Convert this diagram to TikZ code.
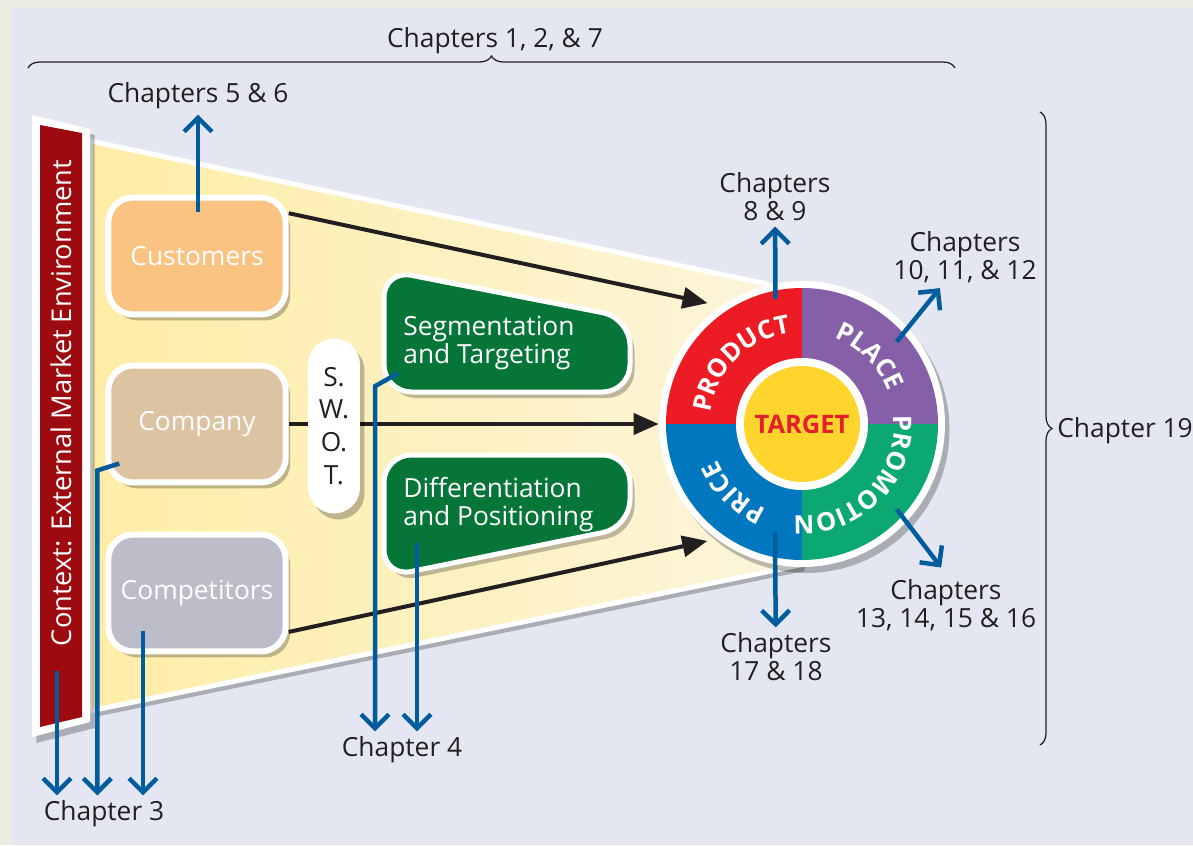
\documentclass[tikz,border=0pt]{standalone}
\usepackage{fontspec}
\setmainfont{Open Sans}
\usepackage{tikz}
\usetikzlibrary{arrows.meta,calc,shadows,decorations.text,decorations.pathreplacing}

\definecolor{bgframe}{HTML}{ECEBE1}
\definecolor{bgpanel}{HTML}{E4E7F1}
\definecolor{funnelL}{HTML}{FFEDA6}
\definecolor{funnelR}{HTML}{FCF5DC}
\definecolor{barred}{HTML}{9D0A0F}
\definecolor{custcol}{HTML}{FBC382}
\definecolor{compcol}{HTML}{DCC4A3}
\definecolor{rivalcol}{HTML}{BDBDCA}
\definecolor{stratgreen}{HTML}{067538}
\definecolor{chapblue}{HTML}{005C9C}
\definecolor{prodred}{HTML}{ED1C24}
\definecolor{placepurple}{HTML}{8560A8}
\definecolor{promogreen}{HTML}{0CA874}
\definecolor{priceblue}{HTML}{0077BF}
\definecolor{targetyellow}{HTML}{FFD42C}
\definecolor{targetred}{HTML}{E3202A}
\definecolor{inktext}{HTML}{231F20}

\newcommand\ringfont{\fontsize{14.5}{14.5}\selectfont\bfseries\color{white}}

\begin{document}
\begin{tikzpicture}[x=0.02cm, y=-0.02cm,
                    font=\fontsize{15}{16}\selectfont, text=inktext,
                    softshadow/.style={drop shadow={opacity=0.25, fill=black, shadow xshift=0.09cm, shadow yshift=-0.12cm}},
                    mktbox/.style={rectangle, rounded corners=0.5cm, draw=white, line width=0.12cm,
                                   minimum width=3.55cm, minimum height=2.34cm, text=white, softshadow},
                    stratbox/.style={draw=white, line width=0.1cm, fill=stratgreen, rounded corners=0.55cm, softshadow},
                    chap/.style={draw=chapblue, line width=0.09cm, -{Straight Barb[length=0.28cm, width=0.56cm]}},
                    flow/.style={draw=inktext, line width=0.08cm, -{Triangle[length=0.5cm, width=0.42cm]}},
                    chaplabel/.style={align=center, inner sep=0.1cm},
                    bracket/.style={decorate, decoration={brace, amplitude=0.24cm}, draw=inktext, line width=0.025cm},
                    ringtext/.style={decorate, decoration={text along path, text align=center, text={|\ringfont|#1}}}]
                    \useasboundingbox (0,0) rectangle (1193,845);
                    \fill[bgframe] (0,0) rectangle (1193,845);
                    \fill[bgpanel] (12,8) rectangle (1193,845);

                    \path[draw=white, line width=0.1cm, left color=funnelL, right color=funnelR, softshadow]
                        (90,141) -- (800,291) -- (800,565) -- (90,711) -- cycle;

                    \fill[white, softshadow] (32,115) -- (90,129) -- (90,722) -- (32,737) -- cycle;
                    \fill[barred] (40,125) -- (82,133) -- (82,717) -- (40,727) -- cycle;
                    \node[rotate=90, text=white, font=\fontsize{15.5}{16}\selectfont] (context) at (61,403) {Context: External Market Environment};

                    \node[circle, fill=white, minimum size=5.72cm, softshadow] (mix) at (802,424) {};
                    \begin{scope}[shift={(mix.center)}, y=0.02cm]
                        \fill[prodred] (0,0) -- (180:136) arc[start angle=180, end angle=90, radius=136] -- cycle;
                        \fill[placepurple] (0,0) -- (90:136) arc[start angle=90, end angle=0, radius=136] -- cycle;
                        \fill[promogreen] (0,0) -- (0:136) arc[start angle=0, end angle=-90, radius=136] -- cycle;
                        \fill[priceblue] (0,0) -- (-90:136) arc[start angle=-90, end angle=-180, radius=136] -- cycle;
                        \fill[white] (0,0) circle[radius=66];
                        \path[ringtext=PRODUCT] (180:92) arc[start angle=180, end angle=90, radius=92];
                        \path[ringtext=PLACE] (90:92) arc[start angle=90, end angle=0, radius=92];
                        \path[ringtext=PROMOTION] (0:92) arc[start angle=0, end angle=-90, radius=92];
                        \path[ringtext=PRICE] (-90:92) arc[start angle=-90, end angle=-180, radius=92];
                    \end{scope}
                    \node[circle, fill=targetyellow, minimum size=2.32cm, text=targetred,
                          font=\fontsize{14.5}{15}\selectfont\bfseries] (target) at (mix) {TARGET};

                    \node[mktbox, fill=custcol] (cust) at (197,256) {Customers};
                    \node[mktbox, fill=compcol] (comp) at (197,424) {Company};
                    \node[mktbox, fill=rivalcol] (rival) at (197,593) {Competitors};

                    \draw[flow] (cust.25) -- ($(mix.center)!1.07!(mix.128)$);
                    \draw[flow] (comp.east) -- (mix.west);
                    \draw[flow] (rival.-23) -- ($(mix.center)!1.05!(mix.231)$);

                    \node[fill=white, rounded corners=0.52cm, minimum width=1.04cm, minimum height=3.5cm,
                          align=center, font=\fontsize{15}{18.7}\selectfont, softshadow] (swot) at (334,426) {S.\\W.\\O.\\T.};

                    \path[stratbox] (384,270) -- (630,318) -- (630,392) -- (384,392) -- cycle;
                    \node[anchor=west, align=left, text=white, inner sep=0pt] (seg) at (403,343) {Segmentation\\and Targeting};
                    \path[stratbox] (384,455) -- (630,455) -- (630,527) -- (384,577) -- cycle;
                    \node[anchor=west, align=left, text=white, inner sep=0pt] (diff) at (403,505) {Differentiation\\and Positioning};

                    \node[chaplabel] (ch127) at (495,41) {Chapters 1, 2, \& 7};
                    \node[chaplabel] (ch56) at (198,96) {Chapters 5 \& 6};
                    \node[chaplabel] (ch89) at (775,197) {Chapters\\8 \& 9};
                    \node[chaplabel] (ch1012) at (965,257) {Chapters\\10, 11, \& 12};
                    \node[chaplabel] (ch1316) at (946,605) {Chapters\\13, 14, 15 \& 16};
                    \node[chaplabel] (ch1718) at (776,657) {Chapters\\17 \& 18};
                    \node[chaplabel] (ch3) at (104,814) {Chapter 3};
                    \node[chaplabel] (ch4) at (402,750) {Chapter 4};
                    \node[chaplabel, anchor=west] (ch19) at (1052,431) {Chapter 19};

                    \draw[bracket] (28,68) -- (955,68);
                    \draw[bracket] (1040,112) -- (1040,745);

                    \draw[chap] ($(cust.north)+(1,17)$) -- (ch56);
                    \draw[chap] ($(context.center)+(-4,268)$) coordinate (ctxdrop) -- (ctxdrop |- ch3.north);
                    \draw[chap] ($(comp.south west)+(14,-22)$) -- ++(-22,7) coordinate (compdrop) -- (compdrop |- ch3.north);
                    \draw[chap] ($(rival.center)+(-54,38)$) coordinate (rivaldrop) -- (rivaldrop |- ch3.north);
                    \draw[chap] ($(seg.south west)+(-5,3)$) -- ++(-23,13) coordinate (segdrop) -- (segdrop |- ch4.north);
                    \draw[chap] ($(diff.south west)+(14,10)$) coordinate (diffdrop) -- (diffdrop |- ch4.north);
                    \draw[chap] ($(mix.center)!0.89!(mix.102)$) -- (ch89);
                    \draw[chap] ($(mix.center)!0.875!(mix.41)$) -- (ch1012);
                    \draw[chap, shorten >=0.16cm] ($(mix.center)!0.89!(mix.-42)$) -- (ch1316.north);
                    \draw[chap] ($(mix.center)!0.78!(mix.256)$) -- (ch1718);
                \end{tikzpicture}
\end{document}
